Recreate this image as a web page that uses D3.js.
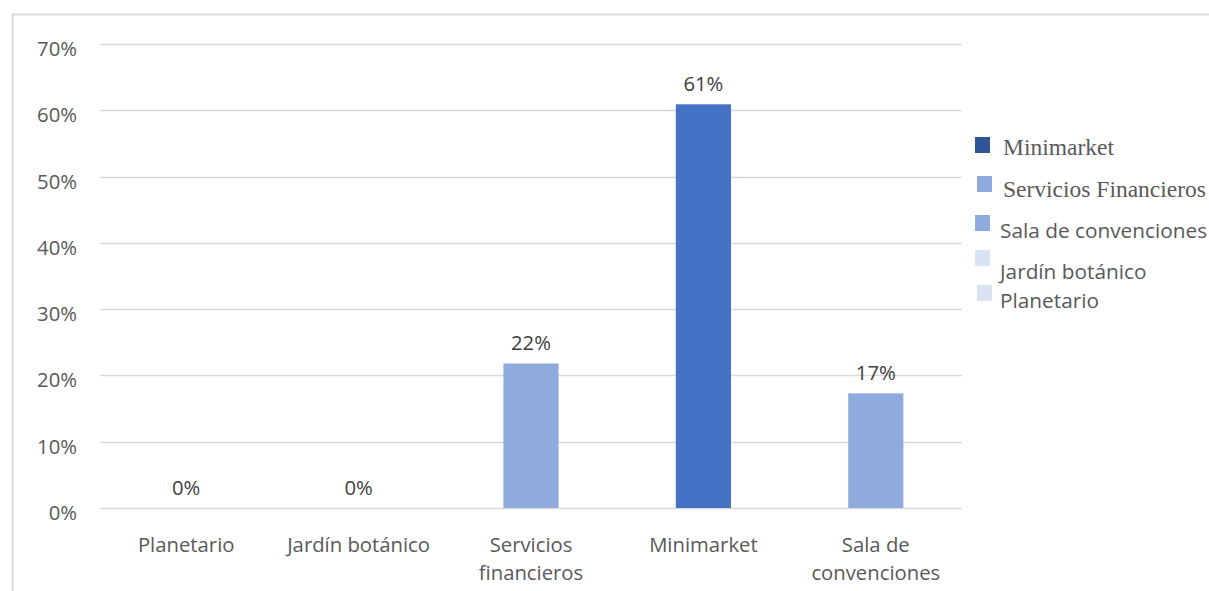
<!DOCTYPE html>
<html><head><meta charset="utf-8">
<script src="https://cdn.jsdelivr.net/npm/d3@7"></script>
<style>body{margin:0;background:#fff;}svg{display:block;}</style>
</head><body>
<svg id="c" width="1209" height="591"></svg>
<script>
const categories = ["Planetario", "Jardín botánico", "Servicios financieros", "Minimarket", "Sala de convenciones"];
const labelLines = [["Planetario"], ["Jardín botánico"], ["Servicios", "financieros"], ["Minimarket"], ["Sala de", "convenciones"]];
const values = [0, 0, 0.218, 0.609, 0.173];
const barColors = ["#8FAADC", "#8FAADC", "#8FAADC", "#4472C4", "#8FAADC"];
const yTicks = [0, 0.1, 0.2, 0.3, 0.4, 0.5, 0.6, 0.7];
const legendItems = ["Minimarket", "Servicios Financieros", "Sala de convenciones", "Jardín botánico", "Planetario"];
const legendColors = ["#2F5597", "#8FAADC", "#8FAADC", "#DAE3F3", "#DAE3F3"];
const legendSerif = [true, true, false, false, false];

const svg = d3.select("#c");
const font = "'Open Sans', sans-serif";
const txt = "#595959";
const fs = 20.3;

// frame
svg.append("path").attr("d", "M12.5,591 L12.5,14.5 L1209,14.5")
  .attr("fill", "none").attr("stroke", "#d9d9d9").attr("stroke-width", 2);

const x = d3.scaleBand().domain(categories).range([100, 962]).paddingInner(0.68).paddingOuter(0.34);
const y = d3.scaleLinear().domain([0, 0.7]).range([508, 44]);

const g = svg.append("g");
g.selectAll("line.grid").data(yTicks).join("line")
  .attr("x1", 100).attr("x2", 962)
  .attr("y1", d => Math.round(y(d)) + 0.5).attr("y2", d => Math.round(y(d)) + 0.5)
  .attr("stroke", "#d9d9d9").attr("stroke-width", 1.3);

g.selectAll("text.yt").data(yTicks).join("text")
  .attr("x", 77).attr("y", d => y(d) + 12)
  .attr("text-anchor", "end").attr("font-family", font).attr("font-size", fs).attr("fill", txt)
  .text(d => d3.format(".0%")(d));

g.selectAll("rect.bar").data(values).join("rect")
  .attr("x", (d, i) => x(categories[i]))
  .attr("width", x.bandwidth())
  .attr("y", d => y(d)).attr("height", d => y(0) - y(d))
  .attr("fill", (d, i) => barColors[i]);

g.selectAll("text.val").data(values).join("text")
  .attr("x", (d, i) => x(categories[i]) + x.bandwidth() / 2)
  .attr("y", d => y(d) - 13)
  .attr("text-anchor", "middle").attr("font-family", font).attr("font-size", fs).attr("fill", "#404040")
  .text(d => d3.format(".0%")(d));

labelLines.forEach((lines, i) => {
  const cx = x(categories[i]) + x.bandwidth() / 2;
  const t = g.append("text")
    .attr("x", cx).attr("y", 552).attr("text-anchor", "middle")
    .attr("font-family", font).attr("font-size", fs).attr("fill", txt);
  lines.forEach((l, j) => t.append("tspan").attr("x", cx).attr("dy", j ? 28 : 0).text(l));
});

// legend
const lg = svg.append("g");
const swY = [137, 176, 215, 250, 285];
const swX = [975, 977, 975, 975, 977];
const tY = [155, 197, 238, 279, 308];
legendItems.forEach((name, i) => {
  lg.append("rect").attr("x", swX[i]).attr("y", swY[i]).attr("width", 15).attr("height", 16).attr("fill", legendColors[i]);
  lg.append("text").attr("x", legendSerif[i] ? 1003 : 1000).attr("y", tY[i])
    .attr("font-family", legendSerif[i] ? "'Liberation Serif', serif" : font)
    .attr("font-size", legendSerif[i] ? 23.5 : 20.8).attr("fill", txt).text(name);
});
</script>
</body></html>
